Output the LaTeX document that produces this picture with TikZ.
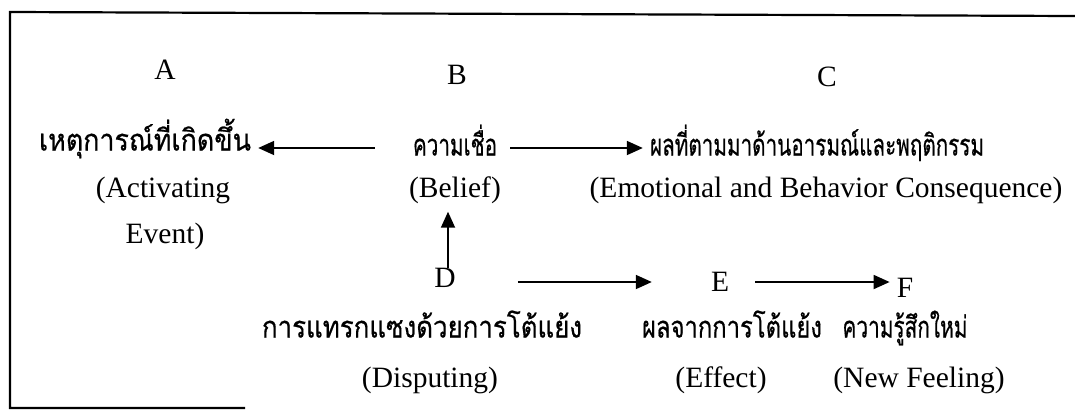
\documentclass[tikz,border=0pt]{standalone}
\usepackage{fontspec}
\usepackage{graphicx}
\setmainfont{Liberation Serif}
\newfontfamily\thaifont[Script=Thai, FakeBold=0.6]{Loma}
\usetikzlibrary{arrows.meta}
\newcommand\thw[2]{\resizebox{#1}{\height}{#2}}
\tikzset{
  en/.style={inner sep=0pt, font=\fontsize{29.5}{32}\selectfont},
  th/.style={inner sep=0pt, text height=22pt, text depth=7pt, font=\thaifont\fontsize{30}{34}\selectfont},
  arr/.style={-{Triangle[length=16pt,width=14pt]}, line width=1.8pt},
  frame/.style={line width=2.2pt}
}
\begin{document}
\begin{tikzpicture}[x=1pt,y=-1pt]
\useasboundingbox (0,0) rectangle (1075,413);
\draw[frame] (1075,16) -- (10,12) -- (10,408) -- (245,408);

\node[en] (A) at (165,70) {A};
\node[th] (thA) at (145,143) {\thw{212pt}{เหตุการณ์ที่เกิดขึ้น}};
\node[en] (enA1) at (163,190) {(Activating};
\node[en] (enA2) at (165,236) {Event)};

\node[en] (B) at (457,75) {B};
\node[th] (thB) at (455,148) {\thw{84pt}{ความเชื่อ}};
\node[en] (enB) at (455,190) {(Belief)};

\node[en] (C) at (827,77) {C};
\node[th] (thC) at (817,148) {\thw{334pt}{ผลที่ตามมาด้านอารมณ์และพฤติกรรม}};
\node[en] (enC) at (826,190) {(Emotional and Behavior Consequence)};

\node[en] (D) at (445,278) {D};
\node[th] (thD) at (422,330) {\thw{320pt}{การแทรกแซงด้วยการโต้แย้ง}};
\node[en] (enD) at (430,380) {(Disputing)};

\node[en] (E) at (720,282) {E};
\node[th] (thE) at (732,330) {\thw{180pt}{ผลจากการโต้แย้ง}};
\node[en] (enE) at (721,380) {(Effect)};

\node[en] (F) at (905,288) {F};
\node[th] (thF) at (905,330) {\thw{125pt}{ความรู้สึกใหม่}};
\node[en] (enF) at (919,380) {(New Feeling)};

\draw[arr, shorten <=38pt, shorten >=7pt] (thB.west) -- (thB.west -| thA.east);
\draw[arr, shorten <=13pt, shorten >=7pt] (thB.east) -- (thB.east -| thC.west);
\draw[arr, shorten <=0pt, shorten >=8pt] ([xshift=3pt]D.north) -- ([xshift=3pt]D.north |- enB.south);
\draw[arr, shorten <=62pt, shorten >=59pt] (D.east |- E.west) -- (E.west);
\draw[arr, shorten <=26pt, shorten >=7pt] (E.east) -- (E.east -| F.west);
\end{tikzpicture}
\end{document}
